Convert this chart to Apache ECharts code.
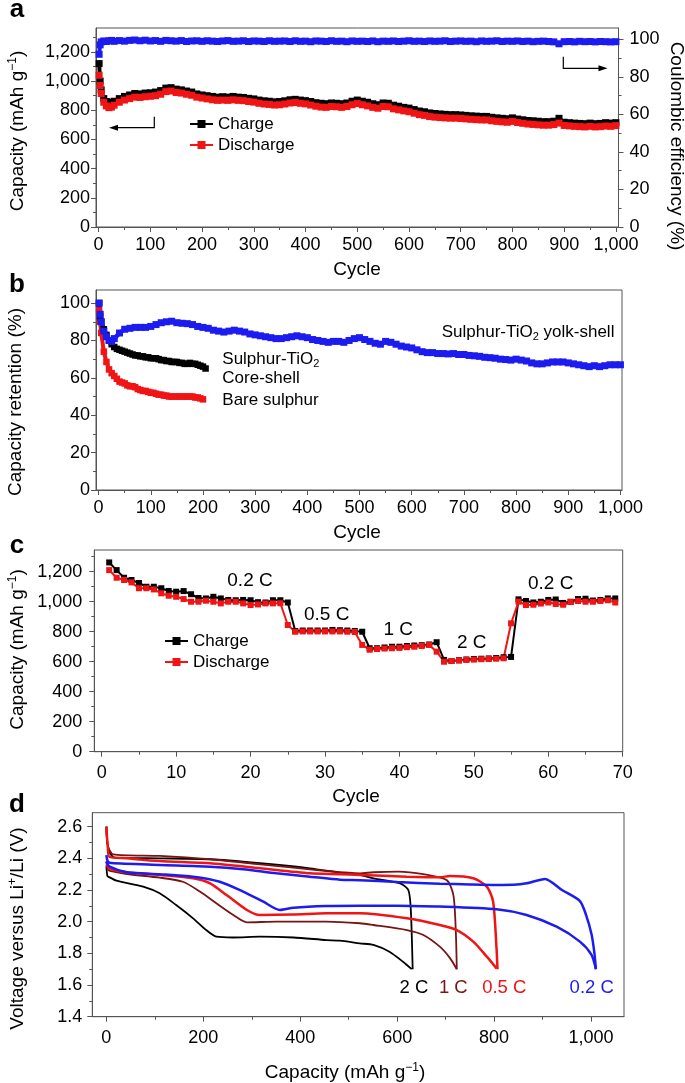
<!DOCTYPE html>
<html><head><meta charset="utf-8">
<script src="https://cdn.jsdelivr.net/npm/echarts@6/dist/echarts.min.js"></script>
<style>html,body{margin:0;padding:0;background:#fff}#c{width:685px;height:1083px}</style>
</head><body><div id="c"></div>
<script>
// ---------- DATA ----------
// Panel a: long-term cycling (cycle, capacity mAh/g, Coulombic efficiency %)
const cyclesA = [1,3,5,10,15,20,25,30,40,50,60,70,80,90,100,110,120,130,140,150,160,170,180,190,200,210,220,230,240,250,260,270,280,290,300,310,320,330,340,350,360,370,380,390,400,410,420,430,440,450,460,470,480,490,500,510,520,530,540,550,560,570,580,590,600,610,620,630,640,650,660,670,680,690,700,710,720,730,740,750,760,770,780,790,800,810,820,830,840,850,860,870,880,890,900,910,920,930,940,950,960,970,980,990,1000];
const chargeA = [1120,1000,940,880,860,852,855, 862,880,895,905,915,912,918,920, 925,935,952,955,945,940,932,925,912,905, 900,895,890,893,890,895,890,888,882,878, 870,865,862,858,860,865,872,875,870,866, 860,852,848,845,850,848,845,850,862,870, 862,855,845,838,850,848,835,828,820,815, 805,795,790,782,778,775,772,770,770,768, 765,762,760,758,758,752,748,745,742,748, 740,735,730,728,725,722,722,725,745,718, 715,712,710,708,712,708,710,715,712,715];
const dischargeA = [1040,970,915,855,830,818,822, 835,855,870,880,890,888,893,896, 900,910,928,932,922,918,910,903,890,884, 878,872,868,870,868,872,868,866,860,856, 848,843,840,836,838,843,850,853,848,844, 836,828,822,820,826,824,820,826,838,846, 838,830,820,814,826,824,810,803,796,790, 780,770,765,757,753,750,748,746,746,744, 741,738,736,734,734,728,724,721,718,724, 716,711,706,703,700,698,698,702,712,696, 693,690,688,686,690,686,688,692,690,695];
const ceA = [92,97,98.6,99.1,98.8,99.2,99.4, 98.9,99.3,99.0,99.4,99.6,99.2,99.5,99.1, 99.3,98.9,99.4,99.2,99.0,99.3,98.8,99.1,99.2,98.9, 99.2,99.0,98.8,99.1,99.3,98.9,99.0,99.2,98.8,99.1, 99.0,98.8,99.2,98.9,99.0,99.1,98.8,99.2,98.9,99.0, 98.7,99.1,99.0,98.8,99.2,98.9,99.0,98.7,99.1,98.9, 99.0,98.8,99.1,98.7,99.0,98.9,99.1,98.8,99.0,99.2, 98.9,99.0,98.8,99.1,98.9,99.0,99.2,98.8,99.0,99.1, 98.9,99.0,98.7,99.1,98.9,99.0,99.2,98.8,99.0,98.9, 99.1,98.8,99.0,98.7,98.9,99.0,98.8,98.6,97.6,98.7, 98.8,98.6,98.9,98.7,98.8,98.6,98.8,98.7,98.6,98.7];

// Panel b: capacity retention (%)
const cyclesB = cyclesA;
const yolkB = [100,94,90,85,82,80,79.5, 81,84,86,86.5,87,87,87,87.5, 88.5,89.5,90,90.3,89.5,89.2,89,88.5,87.5,87, 86.5,85.5,85,84.5,85,85.5,85,84.5,83.5,83, 82.5,82,81.5,81,81,81.5,82,82.5,82,81.5, 80.5,80,79.5,79,79.5,79.5,79,80,81,81.5, 80.5,79.5,78.5,78,79.5,79,78,77,76.5,76, 75,74,73.5,73.5,73,73,72.8,73,72.5,72.5, 72,71.8,71.5,71,70.8,70.5,70,69.8,69.5,70, 69.5,69,68,67.5,67.5,68,68.5,68.5,68.5,68, 67.5,67,66.5,66,66.5,66,66.5,67,67,67];
const cyclesCore = [1,3,5,10,15,20,25,30,35,40,45,50,55,60,65,70,75,80,85,90,95,100,105,110,115,120,125,130,135,140,145,150,155,160,165,170,175,180,185,190,195,200,205];
const coreB = [100,93,90,86,83,80,78,76.5,75.5,75,74.5,74,73.5,73,72.5,72,72,71.5,71.5,71,71,70.5,70.5,70.5,70,69.5,69.5,69,69,68.5,68.5,68.5,68,68,67.5,67.5,68,67.5,67.5,67,66.5,66,65];
const cyclesBare = [1,3,5,10,15,20,25,30,35,40,45,50,55,60,65,70,75,80,85,90,95,100,105,110,115,120,125,130,135,140,145,150,155,160,165,170,175,180,185,190,195,200];
const bareB = [96,90,84,74,68.5,64.5,62.5,61,59.5,58,57.5,57,56,55.5,55.5,55,54,53.5,53,53,52.5,52,52,51.5,51,51,50.5,50.5,50,50,50,50,50,50,50,50,50,50,49.5,49.5,49,48.5];

// Panel c: rate capability
const cyclesC = [1,2,3,4,5,6,7,8,9,10,11,12,13,14,15,16,17,18,19,20,21,22,23,24,25,26,27,28,29,30,31,32,33,34,35,36,37,38,39,40,41,42,43,44,45,46,47,48,49,50,51,52,53,54,55,56,57,58,59,60,61,62,63,64,65,66,67,68,69];
const chargeC = [1262,1211,1160,1145,1125,1100,1100,1090,1072,1067,1071,1050,1025,1022,1033,1022,1012,1010,1012,1010,997,995,1010,1010,995, 805,808,808,808,808,812,810,808,805,800, 690,690,695,700,700,705,708,710,715,730, 612,605,610,615,618,620,622,625,630,632, 1016,1005,995,1000,1012,1015,992,1000,1018,1020,1008,1012,1022,1022];
const dischargeC = [1211,1160,1145,1129,1090,1090,1082,1056,1040,1033,1018,1000,1000,1007,1000,989,1000,1000,989,978,982,989,989,990, 845,800,802,802,802,802,802,802,800,798, 712,680,685,688,690,692,697,700,705,712, 667,600,605,608,612,614,617,618,620,623, 856,1000,978,980,988,995,985,980,998,1005,1000,1000,1005,1010,995];
const ratesC = ['0.2 C','0.5 C','1 C','2 C','0.2 C'];

// Panel d: voltage profiles [capacity, voltage]
const d02Upper = [[0,2.42],[3,2.38],[10,2.37],[110,2.358],[214,2.347],[282,2.331],[351,2.305],[420,2.284],[482,2.265],[523,2.262],[600,2.25],[688,2.24],[750,2.235],[805,2.232],[840,2.233],[867,2.242],[905,2.27],[940,2.2],[977,2.13],[990,2.04],[1001,1.92],[1007,1.8],[1010,1.70]];
const d02Lower = [[0,2.38],[7,2.347],[42,2.312],[110,2.30],[179,2.284],[234,2.252],[282,2.19],[324,2.126],[358,2.074],[386,2.088],[454,2.099],[523,2.101],[600,2.1],[688,2.095],[805,2.078],[867,2.042],[929,1.968],[977,1.874],[1001,1.79],[1010,1.70]];
const d05Upper = [[0,2.6],[3,2.47],[6,2.41],[42,2.40],[110,2.383],[214,2.369],[317,2.337],[420,2.305],[482,2.30],[523,2.295],[620,2.284],[688,2.28],[709,2.289],[757,2.274],[785,2.221],[798,2.126],[805,1.832],[807,1.70]];
const d05Lower = [[0,2.38],[3,2.35],[7,2.333],[42,2.312],[110,2.295],[179,2.274],[214,2.242],[248,2.168],[290,2.074],[317,2.042],[386,2.045],[454,2.053],[523,2.053],[620,2.021],[688,1.979],[723,1.947],[757,1.874],[785,1.779],[805,1.705]];
const d1Upper = [[0,2.6],[3,2.48],[14,2.425],[110,2.415],[214,2.394],[317,2.362],[454,2.32],[523,2.305],[551,2.312],[602,2.316],[654,2.30],[702,2.263],[716,2.168],[721,1.937],[723,1.70]];
const d1Lower = [[0,2.36],[3,2.33],[7,2.32],[42,2.301],[110,2.278],[158,2.252],[193,2.19],[227,2.116],[262,2.042],[290,1.996],[351,2.0],[454,2.0],[523,1.99],[551,1.979],[620,1.947],[654,1.916],[688,1.842],[709,1.77],[723,1.70]];
const d2Upper = [[0,2.6],[2,2.5],[8,2.43],[17.5,2.404],[110,2.40],[214,2.394],[317,2.369],[420,2.337],[482,2.31],[523,2.295],[551,2.274],[606,2.242],[623,2.2],[628,2.084],[632,1.70]];
const d2Lower = [[0,2.35],[2,2.29],[4,2.284],[21,2.259],[76,2.221],[110,2.179],[144,2.105],[179,2.021],[206,1.947],[227,1.905],[262,1.90],[317,1.905],[386,1.90],[454,1.884],[482,1.88],[523,1.863],[551,1.853],[584,1.81],[612,1.747],[630,1.70]];
const ratesD = ['2 C','1 C','0.5 C','0.2 C'];

// Tick values
const ticksAX = [0,100,200,300,400,500,600,700,800,900,1000];
const minorAX = [50,150,250,350,450,550,650,750,850,950];
const ticksAYL = [0,200,400,600,800,1000,1200];
const minorAYL = [100,300,500,700,900,1100,1300];
const ticksAYR = [0,20,40,60,80,100];
const minorAYR = [10,30,50,70,90];
const ticksBY = [0,20,40,60,80,100];
const minorBY = [10,30,50,70,90];
const ticksCX = [0,10,20,30,40,50,60,70];
const minorCX = [5,15,25,35,45,55,65];
const ticksCY = [0,200,400,600,800,1000,1200];
const minorCY = [100,300,500,700,900,1100,1300];
const ticksDX = [0,200,400,600,800,1000];
const minorDX = [100,300,500,700,900];
const ticksDY = [1.4,1.6,1.8,2.0,2.2,2.4,2.6];
const minorDY = [1.5,1.7,1.9,2.1,2.3,2.5];

// ---------- STYLE ----------
const FONT = '"Liberation Sans", Arial, Helvetica, sans-serif';
const AX = '#555';
const BLUE = '#1c1cf0', RED = '#f01414', DRED = '#781414', BLACK = '#000';

const fmtK = v => { const r = Math.round(v); return r >= 1000 ? Math.floor(r/1000) + ',' + String(r % 1000).padStart(3,'0') : String(r); };
const fmtV = v => Number(v).toFixed(1);
const pts = (xs, ys) => xs.map((x, i) => [x, ys[i]]);

function axisPair(gridIndex, position, min, max, majors, minors, fmt, margin) {
  const base = {type:'value', gridIndex, position, min, max, splitLine:{show:false}, splitArea:{show:false}};
  return [
    Object.assign({}, base, {
      axisLine:{show:true, onZero:false, lineStyle:{color:AX, width:1}},
      axisTick:{show:true, length:5, customValues:majors, lineStyle:{color:AX, width:1}},
      axisLabel:{show:true, customValues:majors, formatter:fmt, margin, fontSize:18, color:'#000', fontFamily:FONT}
    }),
    Object.assign({}, base, {
      axisLine:{show:false, onZero:false},
      axisTick:{show:true, length:3, customValues:minors, lineStyle:{color:AX, width:1}},
      axisLabel:{show:false}
    })
  ];
}

const xAxis = [
  ...axisPair(0,'bottom',-5,1005,ticksAX,minorAX,fmtK,9),
  ...axisPair(1,'bottom',-5,1003,ticksAX,minorAX,fmtK,9),
  ...axisPair(2,'bottom',-1,70,ticksCX,minorCX,fmtK,12),
  ...axisPair(3,'bottom',-29,1068,ticksDX,minorDX,fmtK,12)
];
const yAxis = [
  ...axisPair(0,'left',0,1364,ticksAYL,minorAYL,fmtK,6),
  ...axisPair(0,'right',0,106,ticksAYR,minorAYR,fmtK,11),
  ...axisPair(1,'left',0,107,ticksBY,minorBY,fmtK,6),
  ...axisPair(2,'left',0,1345,ticksCY,minorCY,fmtK,12),
  ...axisPair(3,'left',1.4,2.688,ticksDY,minorDY,fmtV,10)
];

const gridStyle = {show:true, borderColor:AX, borderWidth:1, backgroundColor:'transparent'};
const grid = [
  Object.assign({left:96, top:28, width:522.5, height:199}, gridStyle),
  Object.assign({left:96, top:290, width:526, height:200}, gridStyle),
  Object.assign({left:94.3, top:550, width:528.4, height:201.7}, gridStyle),
  Object.assign({left:92.3, top:812.7, width:531.7, height:204}, gridStyle)
];

function markSeries(name, xi, yi, data, color, size, lw) {
  return {type:'line', name, xAxisIndex:xi, yAxisIndex:yi, data, symbol:'rect', symbolSize:size,
    showSymbol:true, itemStyle:{color}, lineStyle:{color, width:lw}, emphasis:{disabled:true}, animation:false};
}
function curve(name, data, color, lw) {
  return {type:'line', name, xAxisIndex:6, yAxisIndex:8, data, symbol:'none', showSymbol:false, smooth:0.25,
    lineStyle:{color, width:lw}, itemStyle:{color}, emphasis:{disabled:true}, animation:false};
}

const series = [
  markSeries('Coulombic efficiency', 0, 2, pts(cyclesA, ceA), BLUE, 7, 4),
  markSeries('Charge', 0, 0, pts(cyclesA, chargeA), BLACK, 7, 4),
  markSeries('Discharge', 0, 0, pts(cyclesA, dischargeA), RED, 7, 4),
  markSeries('Bare sulphur', 2, 4, pts(cyclesBare, bareB), RED, 6.5, 4),
  markSeries('Sulphur-TiO2 core-shell', 2, 4, pts(cyclesCore, coreB), BLACK, 6.5, 4),
  markSeries('Sulphur-TiO2 yolk-shell', 2, 4, pts(cyclesB, yolkB), BLUE, 7, 4.5),
  markSeries('Charge', 4, 6, pts(cyclesC, chargeC), BLACK, 6, 2),
  markSeries('Discharge', 4, 6, pts(cyclesC, dischargeC), RED, 6, 2),
  curve('2 C charge', d2Upper, BLACK, 1.8), curve('2 C discharge', d2Lower, BLACK, 1.8),
  curve('1 C charge', d1Upper, DRED, 1.8), curve('1 C discharge', d1Lower, DRED, 1.8),
  curve('0.5 C charge', d05Upper, RED, 2.5), curve('0.5 C discharge', d05Lower, RED, 2.5),
  curve('0.2 C charge', d02Upper, BLUE, 2.5), curve('0.2 C discharge', d02Lower, BLUE, 2.5)
];

const legendBase = {data:['Charge','Discharge'], orient:'vertical', itemWidth:23, itemHeight:10, itemGap:3, padding:0,
  selectedMode:false, textStyle:{fontSize:17, lineHeight:18, color:'#000', fontFamily:FONT}};
const legend = [
  Object.assign({left:189, top:115}, legendBase),
  Object.assign({left:164, top:632}, legendBase)
];

// ---------- ANNOTATIONS ----------
const SUP = {fontSize:12, fontFamily:FONT, padding:[0,0,10,0]};
const SUB = {fontSize:11, fontFamily:FONT, padding:[8,0,0,0]};
function txt(x, y, text, o) {
  o = o || {};
  return {type:'text', x, y, rotation:o.rot || 0, silent:true, z:50,
    style:{text, fontSize:o.size || 19, fontFamily:FONT, fontWeight:o.bold ? 'bold' : 'normal', fill:o.color || '#000',
      align:o.align || 'center', verticalAlign:'middle', rich:{sup:SUP, sub:SUB}}};
}
const R = Math.PI / 2;
const graphic = [
  txt(17, 9.5, 'a', {size:26, bold:true}),
  txt(17, 285, 'b', {size:26, bold:true}),
  txt(17, 545.5, 'c', {size:26, bold:true}),
  txt(17, 805, 'd', {size:26, bold:true}),
  txt(17.5, 131, 'Capacity (mAh g{sup|−1})', {rot:R}),
  txt(676.7, 146, 'Coulombic efficiency (%)', {rot:-R}),
  txt(357, 270, 'Cycle'),
  txt(15.5, 402, 'Capacity retention (%)', {rot:R}),
  txt(357, 532.7, 'Cycle'),
  txt(17.5, 649.5, 'Capacity (mAh g{sup|−1})', {rot:R}),
  txt(356, 796.7, 'Cycle'),
  txt(17.5, 928.5, 'Voltage versus Li{sup|+}/Li (V)', {rot:R}),
  txt(345, 1073, 'Capacity (mAh g{sup|−1})'),
  txt(441.7, 332.7, 'Sulphur-TiO{sub|2} yolk-shell', {size:17, align:'left'}),
  txt(222.3, 359.5, 'Sulphur-TiO{sub|2}', {size:17, align:'left'}),
  txt(222.3, 378, 'Core-shell', {size:17, align:'left'}),
  txt(222.3, 400.5, 'Bare sulphur', {size:17, align:'left'}),
  txt(250, 581, ratesC[0]),
  txt(326.7, 614.3, ratesC[1]),
  txt(398.3, 630, ratesC[2]),
  txt(471.7, 642.7, ratesC[3]),
  txt(550.7, 583.3, ratesC[4]),
  txt(414, 987.7, ratesD[0], {size:18.5}),
  txt(453.3, 987.7, ratesD[1], {size:18.5, color:DRED}),
  txt(504.3, 987.7, ratesD[2], {size:18.5, color:RED}),
  txt(591.7, 987.7, ratesD[3], {size:18.5, color:BLUE}),
  {type:'polyline', silent:true, z:50, shape:{points:[[154.3,116.7],[154.3,127.7],[116,127.7]]}, style:{stroke:'#000', lineWidth:1.2, fill:null}},
  {type:'polygon', silent:true, z:50, shape:{points:[[109,127.7],[118,124.7],[118,130.7]]}, style:{fill:'#000'}},
  {type:'polyline', silent:true, z:50, shape:{points:[[563.3,56.7],[563.3,68.3],[600,68.3]]}, style:{stroke:'#000', lineWidth:1.2, fill:null}},
  {type:'polygon', silent:true, z:50, shape:{points:[[607.5,68.3],[598.5,65.3],[598.5,71.3]]}, style:{fill:'#000'}}
];

const chart = echarts.init(document.getElementById('c'), null, {renderer:'canvas'});
chart.setOption({
  animation:false,
  backgroundColor:'#fff',
  textStyle:{fontFamily:FONT},
  grid, xAxis, yAxis, series, legend, graphic
});
</script>
</body></html>
